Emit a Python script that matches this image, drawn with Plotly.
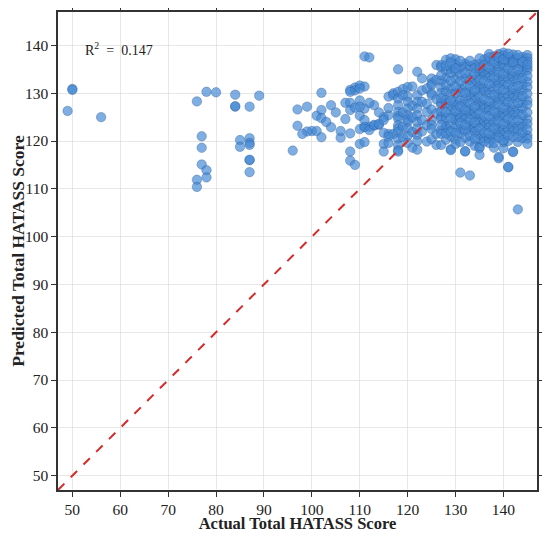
import plotly.graph_objects as go

# low actual scores (left side of the chart)
low_actual = [49, 50, 50, 56, 76, 78, 80, 77, 77, 77, 78, 78, 76, 76,
              84, 84, 84, 87, 89, 85, 85, 87, 87, 87, 87, 87, 87]
low_pred = [126.3, 130.9, 130.7, 125.0, 128.3, 130.3, 130.2, 121.0, 118.6, 115.1, 113.9, 112.4, 111.9, 110.4,
            129.7, 127.2, 127.3, 127.2, 129.5, 120.2, 118.8, 120.6, 119.6, 119.2, 116.0, 116.1, 113.5]

# middle actual scores
mid_actual = [96, 97, 97, 99, 100, 101, 102, 101, 102, 102, 102, 104, 104, 106, 106,
              107, 108, 107, 108, 108, 108, 108, 109, 108, 109, 110, 111, 110, 111,
              110, 111, 110, 110, 111, 111, 112, 112, 113, 114, 115, 115, 115, 116,
              116, 117, 116, 117, 114, 113, 112, 109, 105, 103, 99, 98, 110, 111,
              112, 113, 114, 115, 116, 117, 115, 116, 116, 109, 110, 111, 108]
mid_pred = [118.0, 126.6, 123.2, 127.2, 122.1, 122.1, 130.1, 125.3, 126.5, 124.8, 120.8, 127.5, 122.9, 120.7, 122.1,
            128.0, 128.0, 124.6, 126.5, 121.6, 117.8, 115.9, 115.0, 130.7, 131.2, 131.6, 131.4, 128.5, 126.8,
            125.3, 122.9, 122.5, 119.4, 119.8, 137.7, 137.5, 123.0, 123.2, 123.4, 125.0, 119.4, 117.8, 125.4,
            129.3, 130.0, 121.5, 121.5, 126.0, 127.5, 128.0, 127.0, 126.0, 124.0, 122.0, 121.5, 127.2, 123.0,
            122.3, 123.4, 123.6, 124.4, 126.9, 129.6, 121.7, 120.9, 119.6, 130.6, 131.0, 124.4, 130.3]

# high actual scores (dense cloud)
high_actual = ([118] * 14 + [119] * 5 + [120] * 10 + [121] * 5 + [122] * 10 + [123] * 5 + [124] * 5
               + [125] * 10 + [126] * 6 + [127] * 12 + [128] * 10 + [129] * 11 + [130] * 12 + [131] * 10
               + [132] * 12 + [133] * 11 + [134] * 11 + [135] * 14 + [136] * 11 + [137] * 12 + [138] * 12
               + [139] * 13 + [140] * 14 + [141] * 13 + [142] * 13 + [143] * 12 + [144] * 10 + [145] * 14)
high_pred = [
    135.0, 130.3, 128.9, 127.5, 126.1, 125.2, 124.7, 123.3, 122.6, 121.9, 120.5, 119.1, 118.1, 117.8,
    130.9, 129.6, 126.0, 123.0, 120.8,
    131.3, 129.3, 128.2, 126.8, 125.4, 124.5, 124.0, 122.6, 121.1, 119.6,
    131.4, 127.4, 125.0, 121.9, 118.6,
    134.5, 129.6, 128.2, 126.8, 125.4, 124.0, 122.6, 121.3, 120.0, 118.2,
    133.1, 128.2, 130.6, 124.4, 122.0,
    126.1, 119.9, 131.0, 127.8, 123.3,
    133.1, 132.1, 131.7, 130.0, 129.6, 126.6, 124.4, 123.4, 122.5, 120.4,
    135.9, 132.8, 128.7, 125.8, 121.5, 119.2,
    135.9, 135.4, 132.6, 131.2, 130.1, 128.0, 127.5, 125.1, 124.6, 122.2, 121.5, 119.2,
    137.0, 134.7, 133.2, 130.4, 128.6, 127.9, 124.9, 123.1, 122.8, 120.3,
    137.3, 135.1, 134.2, 131.0, 129.8, 127.2, 126.3, 123.4, 121.0, 118.3, 118.1,
    137.1, 136.0, 134.5, 132.9, 130.0, 128.3, 127.6, 125.1, 124.4, 122.9, 120.3, 119.4,
    135.4, 133.9, 131.0, 130.2, 128.5, 126.0, 124.9, 122.5, 121.6, 113.4,
    136.2, 135.6, 133.0, 131.5, 128.8, 127.8, 125.5, 124.6, 122.2, 120.7, 117.8, 117.9,
    135.7, 134.0, 132.8, 130.2, 129.4, 126.6, 125.7, 123.2, 122.4, 119.9, 112.8,
    136.0, 135.3, 132.7, 131.9, 129.3, 128.5, 126.0, 125.0, 122.8, 121.9, 119.0,
    136.1, 134.4, 133.9, 131.5, 130.6, 128.0, 127.2, 124.6, 123.9, 121.4, 120.4, 118.8, 118.5, 117.1,
    137.1, 134.6, 133.8, 131.1, 130.3, 127.5, 126.7, 124.0, 123.1, 120.6, 119.9,
    138.2, 136.6, 134.3, 133.3, 130.7, 129.7, 127.2, 126.4, 123.8, 122.9, 120.5, 119.6,
    137.7, 135.4, 134.5, 132.1, 131.1, 128.4, 127.5, 124.9, 124.0, 121.5, 120.6, 118.6,
    138.2, 136.7, 135.6, 133.2, 132.2, 129.8, 128.9, 126.2, 125.3, 122.8, 121.9, 116.7, 116.4,
    138.5, 137.9, 136.2, 135.3, 132.9, 131.8, 129.2, 128.3, 125.8, 124.9, 122.4, 121.3, 118.5, 119.8,
    137.6, 136.5, 134.0, 133.1, 130.5, 129.5, 126.9, 126.0, 123.4, 122.5, 120.0, 114.5, 114.6,
    138.1, 137.0, 135.9, 133.5, 132.4, 130.0, 129.0, 126.5, 125.5, 123.0, 122.1, 117.8, 117.7,
    137.4, 136.3, 133.8, 132.8, 130.2, 129.2, 126.7, 125.7, 123.1, 122.2, 119.8, 105.7,
    137.6, 135.5, 134.4, 131.8, 130.7, 128.0, 126.9, 124.1, 123.0, 120.6,
    138.0, 137.3, 136.6, 135.4, 134.8, 132.4, 131.3, 128.5, 127.6, 124.6, 123.6, 121.2, 120.5, 119.4,
]

# more points filling the densest part of the cloud
dense_actual = ([127] * 4 + [128] * 4 + [129] * 5 + [130] * 4 + [131] * 5 + [132] * 4 + [133] * 5
                + [134] * 5 + [135] * 6 + [136] * 5 + [137] * 6 + [138] * 6 + [139] * 6 + [140] * 6
                + [141] * 6 + [142] * 6 + [143] * 6 + [144] * 5 + [145] * 5)
dense_pred = [
    133.8, 129.0, 126.2, 123.4,
    135.8, 131.8, 126.0, 121.6,
    136.4, 132.6, 128.5, 124.8, 122.0,
    135.2, 131.5, 126.4, 121.7,
    136.8, 132.5, 127.2, 123.8, 119.8,
    134.2, 130.1, 126.6, 123.4,
    136.8, 131.5, 127.9, 124.5, 121.1,
    134.0, 130.6, 127.2, 123.9, 120.5,
    137.3, 135.2, 132.8, 129.3, 125.8, 122.6,
    135.9, 132.5, 128.8, 125.3, 121.8,
    137.5, 135.4, 132.0, 128.4, 125.2, 121.7,
    136.6, 133.3, 129.7, 126.2, 122.7, 119.6,
    137.5, 134.4, 131.0, 127.6, 124.1, 120.7,
    137.1, 134.1, 130.7, 127.0, 123.6, 120.2,
    138.3, 135.2, 131.8, 128.2, 124.7, 121.2,
    136.4, 134.7, 131.2, 127.8, 124.3, 120.9,
    138.0, 135.0, 131.5, 128.0, 124.4, 120.9,
    136.6, 133.2, 129.4, 125.5, 121.8,
    136.0, 133.6, 129.9, 126.0, 122.4,
]

r2_text = "R<sup>2</sup>  =  0.147"
axis_range = [47, 147]
tick_vals = [50, 60, 70, 80, 90, 100, 110, 120, 130, 140]

actual = low_actual + mid_actual + high_actual + dense_actual
pred = low_pred + mid_pred + high_pred + dense_pred

fig = go.Figure()
fig.add_trace(go.Scatter(
    x=actual, y=pred, mode="markers",
    marker=dict(size=9.5, color="rgba(66,135,212,0.68)",
                line=dict(width=0.6, color="rgba(35,80,140,0.55)")),
    showlegend=False,
))
fig.add_trace(go.Scatter(
    x=axis_range, y=axis_range, mode="lines",
    line=dict(color="#d42a2a", width=2, dash="dash"),
    showlegend=False,
))
fig.add_annotation(x=52.2, y=139.3, xref="x", yref="y", text=r2_text, showarrow=False,
                   xanchor="left", yanchor="middle", font=dict(size=14, color="#222"))

axis_common = dict(
    range=axis_range, tickvals=tick_vals, showline=True, linecolor="#333", linewidth=1.5,
    mirror="allticks", ticks="outside", ticklen=5, tickcolor="#333", automargin=False,
    showgrid=True, gridcolor="rgba(215,215,215,0.6)", gridwidth=1,
    zeroline=False, tickfont=dict(size=15.5, color="#222"),
)
fig.update_xaxes(**axis_common, ticklabelstandoff=0,
                 title=dict(text="<b>Actual Total HATASS Score</b>", font=dict(size=16.5, color="#222"), standoff=6))
fig.update_yaxes(**axis_common,
                 title=dict(text="<b>Predicted Total HATASS Score</b>", font=dict(size=17.5, color="#222"), standoff=2))
# the page body adds an 8px margin, so the figure is sized to fit inside it
fig.update_layout(
    width=534, height=525,
    margin=dict(l=50, r=5, t=4, b=43),
    plot_bgcolor="white", paper_bgcolor="white",
    font=dict(family="Liberation Serif, serif"),
)
fig.write_html("out.html")
